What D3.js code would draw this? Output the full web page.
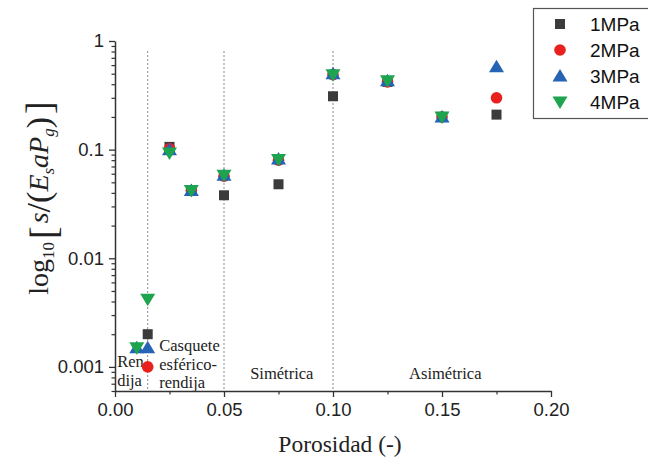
<!DOCTYPE html>
<html>
<head>
<meta charset="utf-8">
<script src="https://cdn.jsdelivr.net/npm/d3@7"></script>
<style>
  html, body { margin: 0; padding: 0; background: #fff; }
  svg { display: block; }
</style>
</head>
<body>
<svg id="chart" width="648" height="459"></svg>
<script>
// Porosity values (x) and the four pressure series
const porosity = [0.01, 0.015, 0.025, 0.035, 0.05, 0.075, 0.10, 0.125, 0.15, 0.175];
const mpa1 = [null, 0.002, 0.106, 0.042, 0.038, 0.048, 0.31, 0.42, 0.20, 0.21];
const mpa2 = [null, 0.001, 0.102, 0.042, 0.057, 0.080, 0.49, 0.42, 0.20, 0.30];
const mpa3 = [0.0015, 0.0015, 0.100, 0.042, 0.058, 0.082, 0.50, 0.43, 0.20, 0.58];
const mpa4 = [0.0015, 0.0042, 0.093, 0.042, 0.058, 0.081, 0.49, 0.43, 0.20, null];
const seriesNames = ["1MPa", "2MPa", "3MPa", "4MPa"];

const xTicks = [0, 0.05, 0.10, 0.15, 0.20];
const xTickLabels = ["0.00", "0.05", "0.10", "0.15", "0.20"];
const yTicks = [0.001, 0.01, 0.1, 1];
const yTickLabels = ["0.001", "0.01", "0.1", "1"];

// Regime boundaries and their labels
const boundaries = [0.015, 0.05, 0.10];
const regions = [
  { x: 0.001, lines: ["Ren", "dija"], anchor: "start" },
  { x: 0.0203, lines: ["Casquete", "esférico-", "rendija"], anchor: "start" },
  { x: 0.0765, lines: ["Simétrica"], anchor: "middle" },
  { x: 0.1515, lines: ["Asimétrica"], anchor: "middle" }
];

const svg = d3.select("#chart");
const plotLeft = 115, plotRight = 551, plotTop = 41, plotBottom = 391;

const x = d3.scaleLinear().domain([0, 0.2]).range([plotLeft, plotRight]);
const y = d3.scaleLog().domain([0.0006, 1]).range([plotBottom, plotTop]);

const axisColor = "#333";
const tickFont = "Arial, 'Liberation Sans', sans-serif";
const serif = "'Liberation Serif', 'DejaVu Serif', serif";

// Dotted regime separators
svg.append("g").selectAll("line").data(boundaries).join("line")
  .attr("x1", d => x(d)).attr("x2", d => x(d))
  .attr("y1", 51).attr("y2", plotBottom)
  .attr("stroke", "#8a8a8a").attr("stroke-width", 1)
  .attr("stroke-dasharray", "2,2");

// Regime labels
const regionG = svg.append("g")
  .attr("font-family", serif).attr("font-size", 16.5).attr("fill", "#222");
const regionBase = { "Ren": 367, "Casquete": 351, "Simétrica": 379, "Asimétrica": 379 };
regions.forEach(r => {
  const base = regionBase[r.lines[0]];
  r.lines.forEach((t, i) => {
    regionG.append("text")
      .attr("x", x(r.x)).attr("y", base + i * 18.5)
      .attr("text-anchor", r.anchor).text(t);
  });
});

// X axis
const xAxis = d3.axisBottom(x).tickValues(xTicks)
  .tickFormat((d, i) => xTickLabels[i]).tickSize(6).tickSizeOuter(0).tickPadding(6);
const gx = svg.append("g").attr("transform", `translate(0,${plotBottom})`).call(xAxis);
gx.select(".domain").attr("stroke", axisColor).attr("stroke-width", 1.5);
gx.selectAll(".tick line").attr("stroke", axisColor).attr("stroke-width", 1.3);
gx.selectAll(".tick text").attr("font-family", tickFont).attr("font-size", 18.5).attr("fill", "#222");
const xMinor = d3.axisBottom(x).tickValues([0.025, 0.075, 0.125, 0.175])
  .tickFormat("").tickSize(3.5).tickSizeOuter(0);
const gxm = svg.append("g").attr("transform", `translate(0,${plotBottom})`).call(xMinor);
gxm.select(".domain").remove();
gxm.selectAll(".tick line").attr("stroke", axisColor).attr("stroke-width", 1.2);

// Y axis (log)
const yAxis = d3.axisLeft(y).tickValues(yTicks)
  .tickFormat((d, i) => yTickLabels[i]).tickSize(6).tickSizeOuter(0).tickPadding(5);
const gy = svg.append("g").attr("transform", `translate(${plotLeft},0)`).call(yAxis);
gy.select(".domain").attr("stroke", axisColor).attr("stroke-width", 1.5);
gy.selectAll(".tick line").attr("stroke", axisColor).attr("stroke-width", 1.3);
gy.selectAll(".tick text").attr("font-family", tickFont).attr("font-size", 18.5).attr("fill", "#222");
const minorY = [];
[0.0001, 0.001, 0.01, 0.1].forEach(dec => {
  for (let k = 2; k <= 9; k++) {
    const v = dec * k;
    if (v >= 0.0006 && v < 1) minorY.push(v);
  }
});
const yMinor = d3.axisLeft(y).tickValues(minorY).tickFormat("").tickSize(3.5).tickSizeOuter(0);
const gym = svg.append("g").attr("transform", `translate(${plotLeft},0)`).call(yMinor);
gym.select(".domain").remove();
gym.selectAll(".tick line").attr("stroke", axisColor).attr("stroke-width", 1.2);

// Marker shapes
const colors = ["#3b3b3b", "#e8211f", "#2563b4", "#1ea34f"];
function marker(sel, kind, color) {
  if (kind === 0) {
    sel.append("rect").attr("x", -5).attr("y", -5).attr("width", 10).attr("height", 10).attr("fill", color);
  } else if (kind === 1) {
    sel.append("circle").attr("r", 5.8).attr("fill", color);
  } else if (kind === 2) {
    sel.append("path").attr("d", "M0,-7L7.5,5.5L-7.5,5.5Z").attr("fill", color);
  } else {
    sel.append("path").attr("d", "M0,7L7.5,-5.5L-7.5,-5.5Z").attr("fill", color);
  }
}

const allSeries = [mpa1, mpa2, mpa3, mpa4];
allSeries.forEach((vals, si) => {
  const pts = porosity.map((p, i) => ({ p, v: vals[i] })).filter(d => d.v != null);
  svg.append("g").selectAll("g").data(pts).join("g")
    .attr("transform", d => `translate(${x(d.p)},${y(d.v)})`)
    .each(function () { marker(d3.select(this), si, colors[si]); });
});

// Legend
const legend = svg.append("g");
legend.append("rect").attr("x", 533.5).attr("y", 8.5).attr("width", 130).attr("height", 110)
  .attr("fill", "#fff").attr("stroke", "#555").attr("stroke-width", 1.2);
seriesNames.forEach((name, i) => {
  const row = legend.append("g").attr("transform", `translate(560,${24 + i * 26})`);
  marker(row, i, colors[i]);
  row.append("text").attr("x", 30).attr("y", 7).attr("font-family", tickFont)
    .attr("font-size", 19).attr("fill", "#111").text(name);
});

// X title
svg.append("text").attr("x", 340).attr("y", 452).attr("text-anchor", "middle")
  .attr("font-family", serif).attr("font-size", 23.5).attr("fill", "#222")
  .text("Porosidad (-)");

// Y title: log10[ s/(E_s a P_g) ]
const yt = svg.append("text")
  .attr("transform", "translate(48,198) rotate(-90)")
  .attr("text-anchor", "middle")
  .attr("font-family", serif).attr("font-size", 28).attr("fill", "#222");
yt.append("tspan").text("log");
yt.append("tspan").attr("font-size", 17).attr("dy", 6).text("10");
yt.append("tspan").attr("font-size", 38).attr("dy", 2).attr("dx", 3).text("[");
yt.append("tspan").attr("font-style", "italic").attr("dy", -8).attr("dx", 3).text("s");
yt.append("tspan").attr("font-size", 34).attr("dy", 2).text("/(");
yt.append("tspan").attr("font-style", "italic").attr("dy", -2).text("E");
yt.append("tspan").attr("font-style", "italic").attr("font-size", 17).attr("dy", 6).text("s");
yt.append("tspan").attr("font-style", "italic").attr("dy", -6).text("aP");
yt.append("tspan").attr("font-style", "italic").attr("font-size", 17).attr("dy", 6).text("g");
yt.append("tspan").attr("font-size", 34).attr("dy", -4).text(")");
yt.append("tspan").attr("font-size", 38).attr("dx", 3).attr("dy", 2).text("]");
</script>
</body>
</html>
